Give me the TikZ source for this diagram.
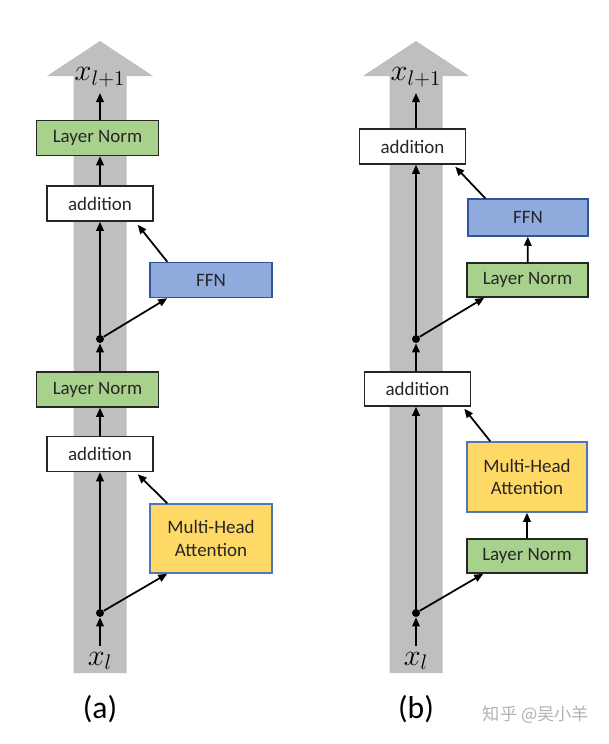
\documentclass[tikz,border=0pt]{standalone}
\usepackage{fontspec}
\setmainfont{Carlito}
\newfontfamily\cjkfont{Noto Sans CJK SC}
\usetikzlibrary{positioning,calc,arrows.meta}

\definecolor{normgreen}{HTML}{A9D18E}
\definecolor{ffnblue}{HTML}{8FAADC}
\definecolor{ffnedge}{HTML}{2F5597}
\definecolor{attnyellow}{HTML}{FFD966}
\definecolor{attnedge}{HTML}{4F76B8}
\definecolor{band}{HTML}{BFBFBF}

\begin{document}
\begin{tikzpicture}
      \tikzstyle{every node}=[font=\fontsize{10.8}{13}\selectfont, text=black!85]
      \tikzstyle{box}=[draw, line width=0.85pt, minimum width=2.44cm, minimum height=0.7cm, inner sep=0pt, align=center]
      \tikzstyle{norm}=[box, fill=normgreen, draw=black!85]
      \tikzstyle{plus}=[box, fill=white, draw=black!85, minimum width=2.12cm]
      \tikzstyle{ffn}=[box, fill=ffnblue, draw=ffnedge]
      \tikzstyle{attn}=[box, fill=attnyellow, draw=attnedge, minimum height=1.38cm]
      \tikzstyle{junction}=[circle, fill=black, inner sep=0pt, minimum size=0.16cm]
      \tikzstyle{flow}=[-{Triangle[length=0.18cm,width=0.15cm]}, line width=1pt]
      \tikzstyle{var}=[font=\fontsize{16.5}{18}\selectfont, text=black]
      \tikzstyle{panel}=[font=\fontsize{18}{20}\selectfont, text=black]

      \useasboundingbox (0,0) rectangle (12.18,-14.88);

      % residual streams
      \foreach \c in {2.0,8.32}
         \fill[band] (\c-0.53,-13.46) -- (\c-0.53,-1.52) -- (\c-1.06,-1.52) -- (\c,-0.82)
            -- (\c+1.06,-1.52) -- (\c+0.53,-1.52) -- (\c+0.53,-13.46) -- cycle;

      % (a) post-LN
      \node[var, anchor=south] (xoutA) at (2.0,-1.86) {$x_{l+1}$};
      \node[norm] (lnA2) at (1.95,-2.76) {Layer Norm};
      \node[plus] (addA2) at (2.0,-4.07) {addition};
      \node[ffn] (ffnA) at (4.22,-5.6) {FFN};
      \node[junction] (dotA2) at (2.0,-6.78) {};
      \node[norm] (lnA1) at (1.95,-7.79) {Layer Norm};
      \node[plus] (addA1) at (2.0,-9.08) {addition};
      \node[attn] (mhaA) at (4.22,-10.77) {Multi-Head\\Attention};
      \node[junction] (dotA1) at (2.0,-12.26) {};
      \node[var, anchor=north] (xA) at (2.0,-12.92) {$x_l$};
      \node[panel] (capA) at (2.0,-14.18) {(a)};

      \draw[flow] (xA.north) -- (dotA1);
      \draw[flow] (dotA1) -- (dotA1 |- addA1.south);
      \draw[flow] (dotA1) -- ([xshift=0.36cm]mhaA.south west);
      \draw[flow] ([xshift=0.36cm]mhaA.north west) -- ([xshift=-0.32cm,yshift=-0.04cm]addA1.south east);
      \draw[flow] (addA1.north) -- (addA1.north |- lnA1.south);
      \draw[flow] (lnA1.north -| dotA2) -- (dotA2);
      \draw[flow] (dotA2) -- (dotA2 |- addA2.south);
      \draw[flow] (dotA2) -- ([xshift=0.36cm]ffnA.south west);
      \draw[flow] ([xshift=0.36cm]ffnA.north west) -- ([xshift=-0.32cm,yshift=-0.06cm]addA2.south east);
      \draw[flow] (addA2.north) -- (addA2.north |- lnA2.south);
      \draw[flow] (lnA2.north -| xoutA) -- (xoutA.south);

      % (b) pre-LN
      \node[var, anchor=south] (xoutB) at (8.32,-1.86) {$x_{l+1}$};
      \node[plus] (addB2) at (8.25,-2.93) {addition};
      \node[ffn, minimum width=2.4cm, minimum height=0.74cm] (ffnB) at (10.56,-4.35) {FFN};
      \node[norm, minimum width=2.42cm, minimum height=0.68cm] (lnB2) at (10.55,-5.6) {Layer Norm};
      \node[junction] (dotB2) at (8.32,-6.78) {};
      \node[plus, minimum height=0.68cm] (addB1) at (8.35,-7.78) {addition};
      \node[attn, minimum width=2.4cm, minimum height=1.4cm] (mhaB) at (10.54,-9.54) {Multi-Head\\Attention};
      \node[norm, minimum width=2.4cm, minimum height=0.68cm] (lnB1) at (10.54,-11.12) {Layer Norm};
      \node[junction] (dotB1) at (8.32,-12.26) {};
      \node[var, anchor=north] (xB) at (8.32,-12.92) {$x_l$};
      \node[panel] (capB) at (8.32,-14.18) {(b)};

      \draw[flow] (xB.north) -- (dotB1);
      \draw[flow] (dotB1) -- (dotB1 |- addB1.south);
      \draw[flow] (dotB1) -- ([xshift=0.34cm]lnB1.south west);
      \draw[flow] (lnB1) -- (mhaB);
      \draw[flow] ([xshift=0.48cm]mhaB.north west) -- ([xshift=-0.14cm,yshift=-0.04cm]addB1.south east);
      \draw[flow] (addB1.north -| dotB2) -- (dotB2);
      \draw[flow] (dotB2) -- (dotB2 |- addB2.south);
      \draw[flow] (dotB2) -- ([xshift=0.36cm]lnB2.south west);
      \draw[flow] (lnB2) -- (ffnB);
      \draw[flow] ([xshift=0.36cm]ffnB.north west) -- ([xshift=-0.22cm,yshift=-0.04cm]addB2.south east);
      \draw[flow] (addB2.north -| xoutB) -- (xoutB.south);

      \node[font=\cjkfont\fontsize{9.8}{11}\selectfont, text=black!30] (mark) at (10.72,-14.3) {知乎 @吴小羊};
\end{tikzpicture}
\end{document}
